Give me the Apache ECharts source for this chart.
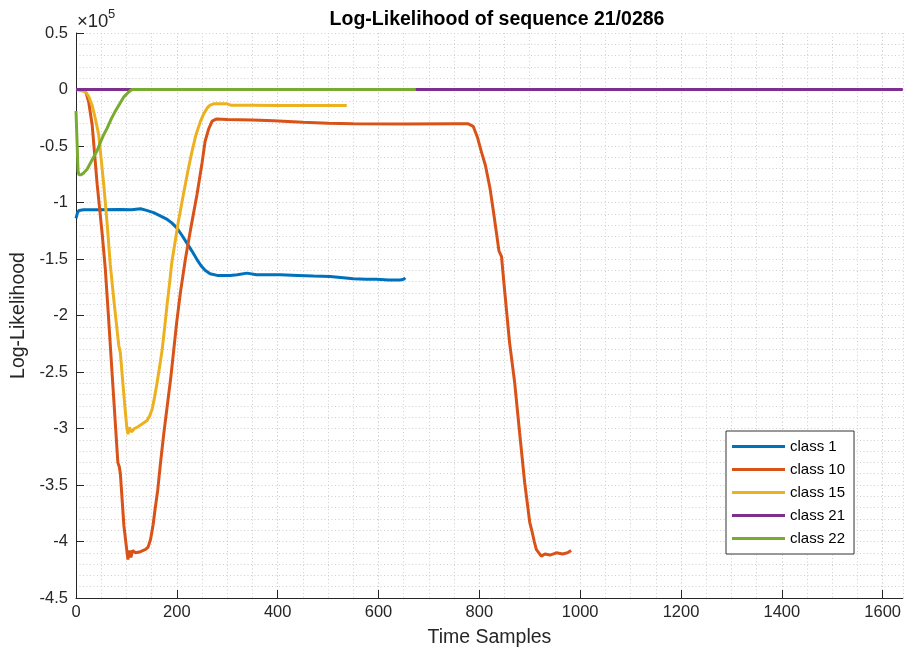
<!DOCTYPE html>
<html>
<head>
<meta charset="utf-8">
<script src="https://cdn.jsdelivr.net/npm/echarts@6/dist/echarts.min.js"></script>
<style>html,body{margin:0;padding:0;background:#fff}#chart{width:904px;height:653px}</style>
</head>
<body>
<div id="chart"></div>
<script>
// Values in units of 10^5
const classNames = ['class 1', 'class 10', 'class 15', 'class 21', 'class 22'];
const colors = ['#0072BD', '#D95319', '#EDB120', '#7E2F8E', '#77AC30'];

const class1T = [0, 3, 6, 15, 40, 88, 110, 128, 140, 154, 168, 181, 190, 200, 210, 220, 230, 240, 248, 256, 266, 280, 306, 320, 339, 358, 405, 440, 471, 504, 530, 550, 575, 596, 620, 643, 650, 653];
const class1V = [-1.14, -1.09, -1.07, -1.065, -1.065, -1.063, -1.065, -1.055, -1.07, -1.09, -1.12, -1.15, -1.18, -1.225, -1.29, -1.36, -1.43, -1.505, -1.56, -1.60, -1.63, -1.645, -1.645, -1.64, -1.625, -1.64, -1.64, -1.645, -1.65, -1.655, -1.665, -1.675, -1.68, -1.68, -1.685, -1.685, -1.68, -1.665];

const class10T = [0, 15, 20, 25, 32, 42, 52, 58, 64, 72, 83, 86, 88, 95, 100, 103, 106, 109, 112, 118, 128, 138, 143, 148, 153, 157, 162, 167, 174, 181, 188, 194, 200, 207, 217, 228, 240, 250, 256, 263, 270, 278, 300, 350, 392, 450, 500, 550, 650, 750, 778, 788, 796, 804, 812, 821, 828, 834, 839, 844, 850, 860, 870, 880, 890, 900, 905, 909, 913, 918, 923, 930, 940, 953, 965, 975, 982];
const class10V = [0, 0, -0.03, -0.107, -0.31, -0.84, -1.28, -1.58, -1.98, -2.54, -3.30, -3.34, -3.40, -3.86, -4.05, -4.16, -4.08, -4.14, -4.08, -4.10, -4.09, -4.07, -4.05, -3.98, -3.85, -3.71, -3.55, -3.33, -3.05, -2.80, -2.55, -2.30, -2.05, -1.80, -1.50, -1.22, -0.93, -0.65, -0.46, -0.35, -0.28, -0.262, -0.265, -0.27, -0.277, -0.29, -0.298, -0.304, -0.305, -0.304, -0.304, -0.327, -0.42, -0.55, -0.67, -0.87, -1.08, -1.27, -1.43, -1.476, -1.77, -2.24, -2.59, -3.04, -3.48, -3.83, -3.92, -4.00, -4.07, -4.10, -4.13, -4.11, -4.12, -4.10, -4.11, -4.10, -4.08];

const class15T = [0, 19, 25, 32, 38, 45, 55, 62, 68, 75, 82, 85, 88, 93, 98, 101, 103, 106, 108, 110, 112, 116, 121, 131, 141, 146, 151, 156, 161, 166, 171, 176, 181, 186, 190, 194, 203, 213, 222, 230, 238, 247, 254, 260, 266, 273, 285, 300, 308, 350, 400, 450, 500, 537];
const class15V = [0, -0.02, -0.06, -0.14, -0.25, -0.40, -0.84, -1.20, -1.55, -1.86, -2.15, -2.27, -2.33, -2.60, -2.86, -3.00, -3.05, -2.99, -2.98, -3.03, -3.02, -3.00, -2.99, -2.96, -2.93, -2.89, -2.83, -2.72, -2.59, -2.45, -2.30, -2.10, -1.89, -1.70, -1.53, -1.42, -1.17, -0.93, -0.72, -0.55, -0.40, -0.28, -0.21, -0.165, -0.138, -0.127, -0.125, -0.127, -0.14, -0.14, -0.142, -0.142, -0.142, -0.142];

const class21T = [0, 1640];
const class21V = [0, 0];

const class22T = [0, 2, 4, 6, 10, 15, 22, 30, 42, 50, 55, 62, 70, 77, 85, 95, 105, 111, 150, 300, 500, 674];
const class22V = [-0.19, -0.45, -0.72, -0.755, -0.754, -0.74, -0.705, -0.64, -0.54, -0.45, -0.40, -0.34, -0.26, -0.20, -0.14, -0.065, -0.02, 0, 0, 0, 0, 0];

const xTicks = [0, 200, 400, 600, 800, 1000, 1200, 1400, 1600];
const xMax = 1640;
const yMin = -4.5, yMax = 0.5, yStep = 0.5;

const seriesT = [class1T, class10T, class15T, class21T, class22T];
const seriesV = [class1V, class10V, class15V, class21V, class22V];

const FONT = 'Liberation Sans, Arial, Helvetica, sans-serif';
const AX = '#262626';
const GRID = '#cfcfcf';
const DOT = [1, 2.5];

const chart = echarts.init(document.getElementById('chart'), null, {renderer: 'canvas'});
const option = {
  animation: false,
  backgroundColor: '#fff',
  textStyle: {fontFamily: FONT},
  title: {
    text: 'Log-Likelihood of sequence 21/0286',
    left: 492, top: 5, textAlign: 'center',
    textStyle: {fontFamily: FONT, fontSize: 19.5, fontWeight: 'bold', color: '#000'}
  },
  grid: {left: 76, right: 1, top: 33, bottom: 54, containLabel: false},
  legend: {
    orient: 'vertical', left: 726, top: 431,
    data: classNames.map(n => ({name: n, icon: 'rect'})),
    itemWidth: 53, itemHeight: 3, itemGap: 8,
    padding: [8, 9, 8, 6],
    borderColor: '#333', borderWidth: 1, backgroundColor: '#fff',
    textStyle: {fontFamily: FONT, fontSize: 15, color: '#000'}
  },
  xAxis: [{
    type: 'value', min: 0, max: xMax, interval: 200,
    name: 'Time Samples', nameLocation: 'middle', nameGap: 30,
    nameTextStyle: {fontFamily: FONT, fontSize: 19.5, color: AX},
    axisLine: {show: true, onZero: false, lineStyle: {color: AX, width: 1}},
    axisTick: {show: true, inside: true, length: 8, lineStyle: {color: AX}, customValues: xTicks},
    axisLabel: {fontFamily: FONT, fontSize: 16.5, color: AX, margin: 6, customValues: xTicks,
      formatter: v => (xTicks.indexOf(v) >= 0 ? String(v) : '')},
    splitLine: {show: true, lineStyle: {color: GRID, type: DOT, width: 1}}
  }, {
    type: 'value', min: 0, max: xMax, interval: 50, position: 'bottom',
    axisLine: {show: false}, axisTick: {show: false}, axisLabel: {show: false},
    splitLine: {show: true, lineStyle: {color: GRID, type: DOT, width: 1}}
  }],
  yAxis: {
    type: 'value', min: yMin, max: yMax, interval: yStep,
    name: 'Log-Likelihood', nameLocation: 'middle', nameGap: 46,
    nameTextStyle: {fontFamily: FONT, fontSize: 19.5, color: AX},
    axisLine: {show: true, onZero: false, lineStyle: {color: AX, width: 1}},
    axisTick: {show: true, inside: true, length: 8, lineStyle: {color: AX}},
    axisLabel: {fontFamily: FONT, fontSize: 16.5, color: AX, margin: 8},
    splitLine: {show: true, lineStyle: {color: GRID, type: DOT, width: 1}},
    minorTick: {show: false, splitNumber: 5},
    minorSplitLine: {show: true, lineStyle: {color: GRID, type: DOT, width: 1}}
  },
  graphic: [
    {type: 'text', left: 77, top: 12, style: {text: '×10', fontFamily: FONT, fontSize: 18.5, fill: AX}},
    {type: 'text', left: 108, top: 8, style: {text: '5', fontFamily: FONT, fontSize: 13, fill: AX}}
  ],
  series: classNames.map((n, k) => ({
    name: n, type: 'line', xAxisIndex: 0,
    data: seriesT[k].map((t, i) => [t, seriesV[k][i]]),
    showSymbol: false, symbol: 'none', smooth: false,
    lineStyle: {color: colors[k], width: 3},
    itemStyle: {color: colors[k]},
    z: 2 + k
  }))
};
chart.setOption(option);
</script>
</body>
</html>
